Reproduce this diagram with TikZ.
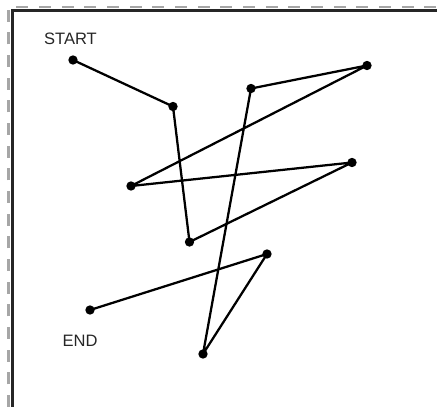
\documentclass[tikz,border=0pt]{standalone}
\usepackage{fontspec}
\setmainfont{Liberation Sans}
\begin{document}
\begin{tikzpicture}[x=0.75pt,y=-0.75pt,
  dot/.style={circle,fill=black,inner sep=0pt,minimum size=7pt},
  seg/.style={line width=1.7pt,black},
  lbl/.style={font=\fontsize{12.4pt}{15pt}\selectfont,text=black!85,inner sep=0pt},
  dashframe/.style={draw=black!35,line width=2pt,dash pattern=on 9pt off 8pt},
  solidframe/.style={draw=black!85,line width=1.7pt}]
\useasboundingbox (0,0) rectangle (437,407);
\draw[dashframe] (8.5,407) -- (8.5,7) -- (437,7);
\draw[solidframe] (12.5,407) -- (12.5,10.5) -- (437,10.5);
\node[dot] (a) at (73,60) {};
\node[dot] (b) at (173,106.5) {};
\node[dot] (c) at (189.5,242) {};
\node[dot] (d) at (352,162.5) {};
\node[dot] (e) at (131,186) {};
\node[dot] (f) at (367,65.5) {};
\node[dot] (g) at (251,88.5) {};
\node[dot] (h) at (203,354) {};
\node[dot] (i) at (267,254) {};
\node[dot] (j) at (90,310) {};
\draw[seg,line join=round] (a.center) -- (b.center) -- (c.center) -- (d.center) -- (e.center) -- (f.center) -- (g.center) -- (h.center) -- (i.center) -- (j.center);
\node[lbl] (start) at (70.5,38.5) {START};
\node[lbl] (end) at (80,340.5) {END};
\end{tikzpicture}
\end{document}
